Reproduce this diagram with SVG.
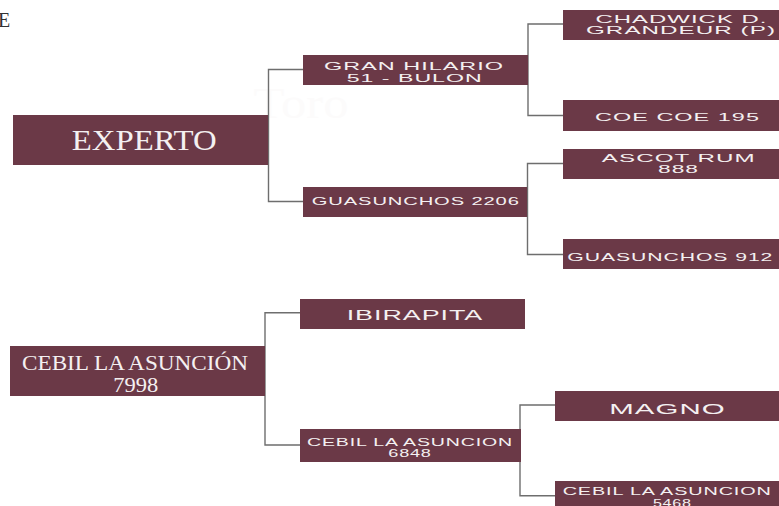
<svg xmlns="http://www.w3.org/2000/svg" width="779" height="506" viewBox="0 0 779 506">
<style>
.box{fill:#6b3947}
.conn{fill:none;stroke:#6e6e6e;stroke-width:1.4}
.serif{font-family:"Liberation Serif","Times New Roman",serif;fill:#f4f0f1;text-anchor:middle}
.sans{font-family:"Liberation Sans",Arial,sans-serif;fill:#f4f0f1;text-anchor:middle;font-size:11.5px;letter-spacing:0.5px}
.big{font-size:14px}
</style>
<rect width="779" height="506" fill="#ffffff"/>
<text x="-2" y="26.7" font-family="Liberation Serif, serif" font-size="20" fill="#333333">E</text>
<text x="301" y="118" font-family="Liberation Serif, serif" font-size="44" fill="#fcfbfb" text-anchor="middle" textLength="95" lengthAdjust="spacingAndGlyphs">Toro</text>
<g id="connectors">
<path class="conn" d="M303,69.5 H268.5 V201.5 H303"/>
<path class="conn" d="M563,24 H528 V115.5 H563"/>
<path class="conn" d="M563,163.5 H527.5 V254.5 H563"/>
<path class="conn" d="M300,312.7 H265 V445 H300"/>
<path class="conn" d="M555,405 H520 V495.7 H555"/>
</g>
<g id="experto">
<rect class="box" x="13" y="115" width="255" height="50"/>
<text class="serif" x="144.2" y="150" font-size="29" textLength="145" lengthAdjust="spacingAndGlyphs">EXPERTO</text>
</g>
<g id="gran-hilario">
<rect class="box" x="303" y="55" width="225" height="30"/>
<text class="sans" x="414" y="69.5" textLength="180" lengthAdjust="spacingAndGlyphs">GRAN HILARIO</text>
<text class="sans" x="414.7" y="81.7" textLength="136" lengthAdjust="spacingAndGlyphs">51 - BULON</text>
</g>
<g id="guasunchos-2206">
<rect class="box" x="303" y="187" width="224" height="30"/>
<text class="sans" x="415.8" y="205.3" textLength="208" lengthAdjust="spacingAndGlyphs">GUASUNCHOS 2206</text>
</g>
<g id="chadwick">
<rect class="box" x="563" y="10" width="216" height="30"/>
<text class="sans" x="681.5" y="23" textLength="172" lengthAdjust="spacingAndGlyphs">CHADWICK D.</text>
<text class="sans" x="681" y="33.5" textLength="190" lengthAdjust="spacingAndGlyphs">GRANDEUR (P)</text>
</g>
<g id="coe-coe">
<rect class="box" x="563" y="100" width="216" height="31"/>
<text class="sans" x="677.5" y="121.3" textLength="165" lengthAdjust="spacingAndGlyphs">COE COE 195</text>
</g>
<g id="ascot-rum">
<rect class="box" x="563" y="149" width="216" height="30"/>
<text class="sans" x="678.8" y="162" textLength="154" lengthAdjust="spacingAndGlyphs">ASCOT RUM</text>
<text class="sans" x="678.5" y="173.3" textLength="41" lengthAdjust="spacingAndGlyphs">888</text>
</g>
<g id="guasunchos-912">
<rect class="box" x="563" y="239" width="216" height="30"/>
<text class="sans" x="670.3" y="260.5" textLength="206" lengthAdjust="spacingAndGlyphs">GUASUNCHOS 912</text>
</g>
<g id="cebil-7998">
<rect class="box" x="10" y="346" width="255" height="50"/>
<text class="serif" x="135" y="369.5" font-size="20" textLength="226" lengthAdjust="spacingAndGlyphs">CEBIL LA ASUNCIÓN</text>
<text class="serif" x="135.8" y="391.7" font-size="20" textLength="45" lengthAdjust="spacingAndGlyphs">7998</text>
</g>
<g id="ibirapita">
<rect class="box" x="300" y="299" width="225" height="30"/>
<text class="sans big" x="415" y="320" textLength="136.6" lengthAdjust="spacingAndGlyphs">IBIRAPITA</text>
</g>
<g id="cebil-6848">
<rect class="box" x="300" y="429" width="221" height="33"/>
<text class="sans" x="410" y="445.7" textLength="206" lengthAdjust="spacingAndGlyphs">CEBIL LA ASUNCION</text>
<text class="sans" x="410" y="457.3" textLength="43.4" lengthAdjust="spacingAndGlyphs">6848</text>
</g>
<g id="magno">
<rect class="box" x="555" y="391" width="224" height="30"/>
<text class="sans big" x="667.5" y="413.5" textLength="116.4" lengthAdjust="spacingAndGlyphs">MAGNO</text>
</g>
<g id="cebil-5468">
<rect class="box" x="555" y="481" width="224" height="30"/>
<text class="sans" x="667.2" y="495.3" textLength="209" lengthAdjust="spacingAndGlyphs">CEBIL LA ASUNCION</text>
<text class="sans" x="672.3" y="507" textLength="38.7" lengthAdjust="spacingAndGlyphs">5468</text>
</g>
</svg>
